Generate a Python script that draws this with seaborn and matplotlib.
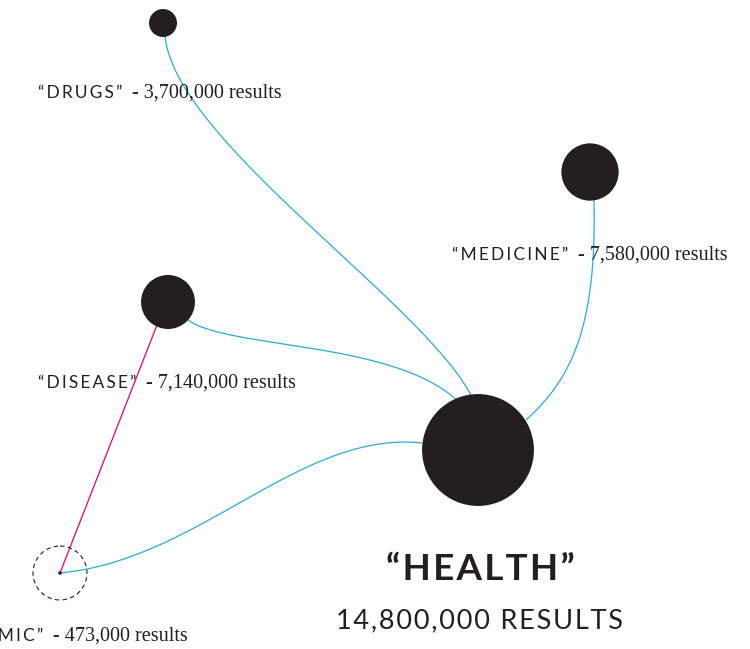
import numpy as np
import pandas as pd
import matplotlib.pyplot as plt
import seaborn as sns
from matplotlib.patches import Circle

# search terms and result counts
terms = ["HEALTH", "DRUGS", "MEDICINE", "DISEASE", "EPIDEMIC"]
results = [14800000, 3700000, 7580000, 7140000, 473000]
result_labels = ["14,800,000", "3,700,000", "7,580,000", "7,140,000", "473,000"]

# layout (pixel coords on a 750x649 canvas)
node_x = [478, 163, 590, 168, 60]
node_y = [450, 23, 172, 302, 573]

BLUE = "#29abe2"
PINK = "#e5007d"
INK = "#231f20"
PX_PER_RESULT = 3.78e-6


def bezier(p0, p1, p2, p3, n=200):
    t = np.linspace(0, 1, n)[:, None]
    p = ((1 - t) ** 3) * np.array(p0) + 3 * ((1 - t) ** 2) * t * np.array(p1) \
        + 3 * (1 - t) * t ** 2 * np.array(p2) + t ** 3 * np.array(p3)
    return p[:, 0], p[:, 1]


def spaced(s, sep="\u200a"):
    # fake letter-spacing with thin / hair spaces
    return sep.join(s)


sns.set_style("white")
plt.rcParams["font.family"] = ["Lato", "DejaVu Sans"]

fig = plt.figure(figsize=(7.5, 6.49), dpi=100)
ax = fig.add_axes([0, 0, 1, 1])
ax.set_xlim(0, 750)
ax.set_ylim(649, 0)
ax.axis("off")

# connecting curves to "HEALTH"
curves = [
    [(165, 36), (175, 140), (420, 300), (471, 395)],
    [(594, 200), (597, 330), (570, 380), (526, 420)],
    [(188, 320), (230, 350), (400, 340), (462, 405)],
    [(60, 573), (200, 560), (300, 430), (422, 443)],
]
for c in curves:
    cx, cy = bezier(*c)
    ax.plot(cx, cy, color=BLUE, lw=0.9, zorder=1, solid_capstyle="butt")

ax.plot([60, 157], [573, 325], color=PINK, lw=0.9, zorder=1)

# nodes: radius proportional to number of results
df = pd.DataFrame({"term": terms, "results": results, "x": node_x, "y": node_y})
radius_px = df["results"] * PX_PER_RESULT
s = (2 * radius_px * 0.72) ** 2
sns.scatterplot(data=df, x="x", y="y", s=s, color=INK, edgecolor="none",
                ax=ax, zorder=3, legend=False)

ax.add_patch(Circle((60, 573), 27, fill=False, ec=INK, lw=0.8,
                    ls=(0, (4, 3)), zorder=2))

renderer = fig.canvas.get_renderer()
SERIF = ["Liberation Serif", "DejaVu Serif"]


def label(x, y, term, count, align="left"):
    head = spaced(f"\u201c{term}\u201d", "\u2009")
    tail = f"  - {count} results"
    kw_head = dict(fontsize=12.5, color=INK, va="baseline")
    kw_tail = dict(fontsize=14.5, color=INK, va="baseline", family=SERIF)
    if align == "left":
        t1 = ax.text(x, y, head, ha="left", **kw_head)
        w = t1.get_window_extent(renderer).width
        ax.text(x + w, y, tail, ha="left", **kw_tail)
    else:
        t2 = ax.text(x, y, tail, ha="right", **kw_tail)
        w = t2.get_window_extent(renderer).width
        ax.text(x - w, y, head, ha="right", **kw_head)


label(38, 98, terms[1], result_labels[1])
label(452, 260, terms[2], result_labels[2])
label(38, 388, terms[3], result_labels[3])
label(188, 641, terms[4], result_labels[4], align="right")

ax.text(480, 580, spaced(f"\u201c{terms[0]}\u201d"), fontsize=26.5,
        fontweight="bold", color=INK, ha="center", va="baseline")
ax.text(479, 628, spaced(f"{result_labels[0]} RESULTS"), fontsize=19.5,
        fontweight="normal", color=INK, ha="center", va="baseline")

fig.savefig("out.png", dpi=100)
